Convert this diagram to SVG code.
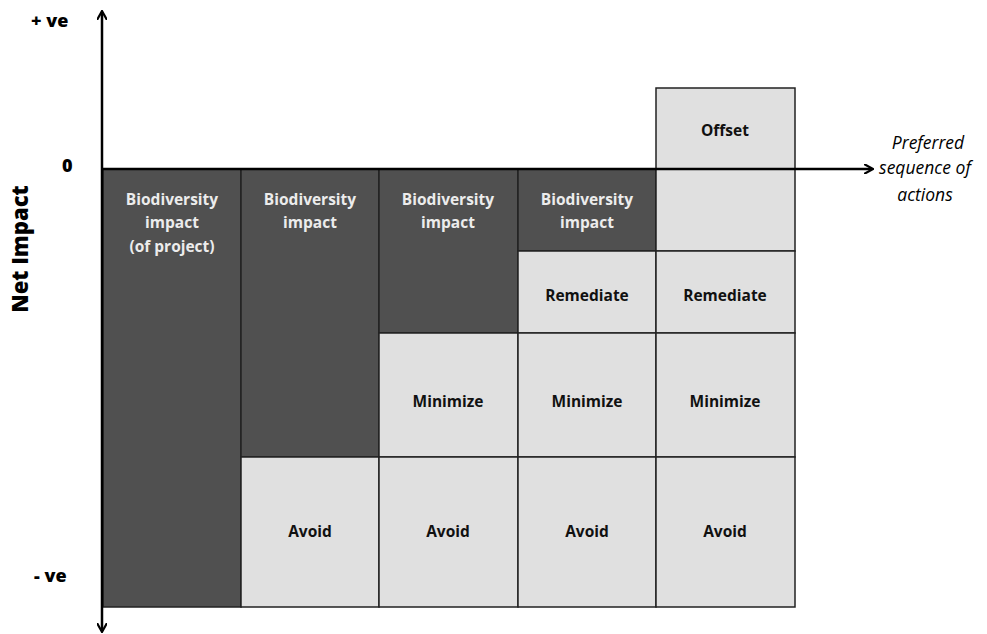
<svg xmlns="http://www.w3.org/2000/svg" width="987" height="634" viewBox="0 0 987 634">
<style>
.dk{fill:#505050;stroke:#222;stroke-width:1.5}
.lt{fill:#e0e0e0;stroke:#222;stroke-width:1.5}
.wt{font-family:"Open Sans","Liberation Sans",sans-serif;font-weight:bold;font-size:15.5px;fill:#ececec;text-anchor:middle}
.bt{font-family:"Open Sans","Liberation Sans",sans-serif;font-weight:bold;font-size:15.5px;fill:#111;text-anchor:middle}
.ax{font-family:"Open Sans","Liberation Sans",sans-serif;font-weight:800;font-size:18px;fill:#000}
.yl{font-family:"Open Sans","Liberation Sans",sans-serif;font-weight:800;font-size:22px;fill:#000;text-anchor:middle}
.it{font-family:"Open Sans","Liberation Sans",sans-serif;font-style:italic;font-size:17.5px;fill:#000;text-anchor:middle}
.axis{stroke:#000;stroke-width:2.5;fill:none}
</style>
<defs>
<marker id="ah" markerWidth="10" markerHeight="10" refX="8" refY="5" orient="auto" markerUnits="userSpaceOnUse">
<path d="M0,0 L9,5 L0,10" fill="none" stroke="#000" stroke-width="2.2"/>
</marker>
</defs>
<rect width="987" height="634" fill="#fff"/>
<g id="col1">
<rect class="dk" x="103" y="169" width="138" height="438"/>
<text class="wt" x="172" y="205">Biodiversity</text>
<text class="wt" x="172" y="228">impact</text>
<text class="wt" x="172" y="252">(of project)</text>
</g>
<g id="col2">
<rect class="dk" x="241" y="169" width="138" height="288"/>
<text class="wt" x="310" y="205">Biodiversity</text>
<text class="wt" x="310" y="228">impact</text>
<rect class="lt" x="241" y="457" width="138" height="150"/>
<text class="bt" x="310" y="537">Avoid</text>
</g>
<g id="col3">
<rect class="dk" x="379" y="169" width="139" height="164"/>
<text class="wt" x="448" y="205">Biodiversity</text>
<text class="wt" x="448" y="228">impact</text>
<rect class="lt" x="379" y="333" width="139" height="124"/>
<text class="bt" x="448" y="407">Minimize</text>
<rect class="lt" x="379" y="457" width="139" height="150"/>
<text class="bt" x="448" y="537">Avoid</text>
</g>
<g id="col4">
<rect class="dk" x="518" y="169" width="138" height="82"/>
<text class="wt" x="587" y="205">Biodiversity</text>
<text class="wt" x="587" y="228">impact</text>
<rect class="lt" x="518" y="251" width="138" height="82"/>
<text class="bt" x="587" y="301">Remediate</text>
<rect class="lt" x="518" y="333" width="138" height="124"/>
<text class="bt" x="587" y="407">Minimize</text>
<rect class="lt" x="518" y="457" width="138" height="150"/>
<text class="bt" x="587" y="537">Avoid</text>
</g>
<g id="col5">
<rect class="lt" x="656" y="88" width="139" height="81"/>
<text class="bt" x="725" y="136">Offset</text>
<rect class="lt" x="656" y="169" width="139" height="82"/>
<rect class="lt" x="656" y="251" width="139" height="82"/>
<text class="bt" x="725" y="301">Remediate</text>
<rect class="lt" x="656" y="333" width="139" height="124"/>
<text class="bt" x="725" y="407">Minimize</text>
<rect class="lt" x="656" y="457" width="139" height="150"/>
<text class="bt" x="725" y="537">Avoid</text>
</g>
<g id="connectors">
<line class="axis" x1="102" y1="169" x2="102" y2="12" marker-end="url(#ah)"/>
<line class="axis" x1="102" y1="169" x2="102" y2="631" marker-end="url(#ah)"/>
<line class="axis" x1="102" y1="169" x2="872" y2="169" marker-end="url(#ah)"/>
</g>
<g id="labels">
<text class="ax" x="31" y="27">+ ve</text>
<text class="ax" x="62" y="172">0</text>
<text class="ax" x="34" y="582">- ve</text>
<text class="yl" x="0" y="0" transform="translate(28,249) rotate(-90)">Net Impact</text>
<text class="it" x="928" y="149">Preferred</text>
<text class="it" x="925" y="174">sequence of</text>
<text class="it" x="925" y="201">actions</text>
</g>
</svg>
